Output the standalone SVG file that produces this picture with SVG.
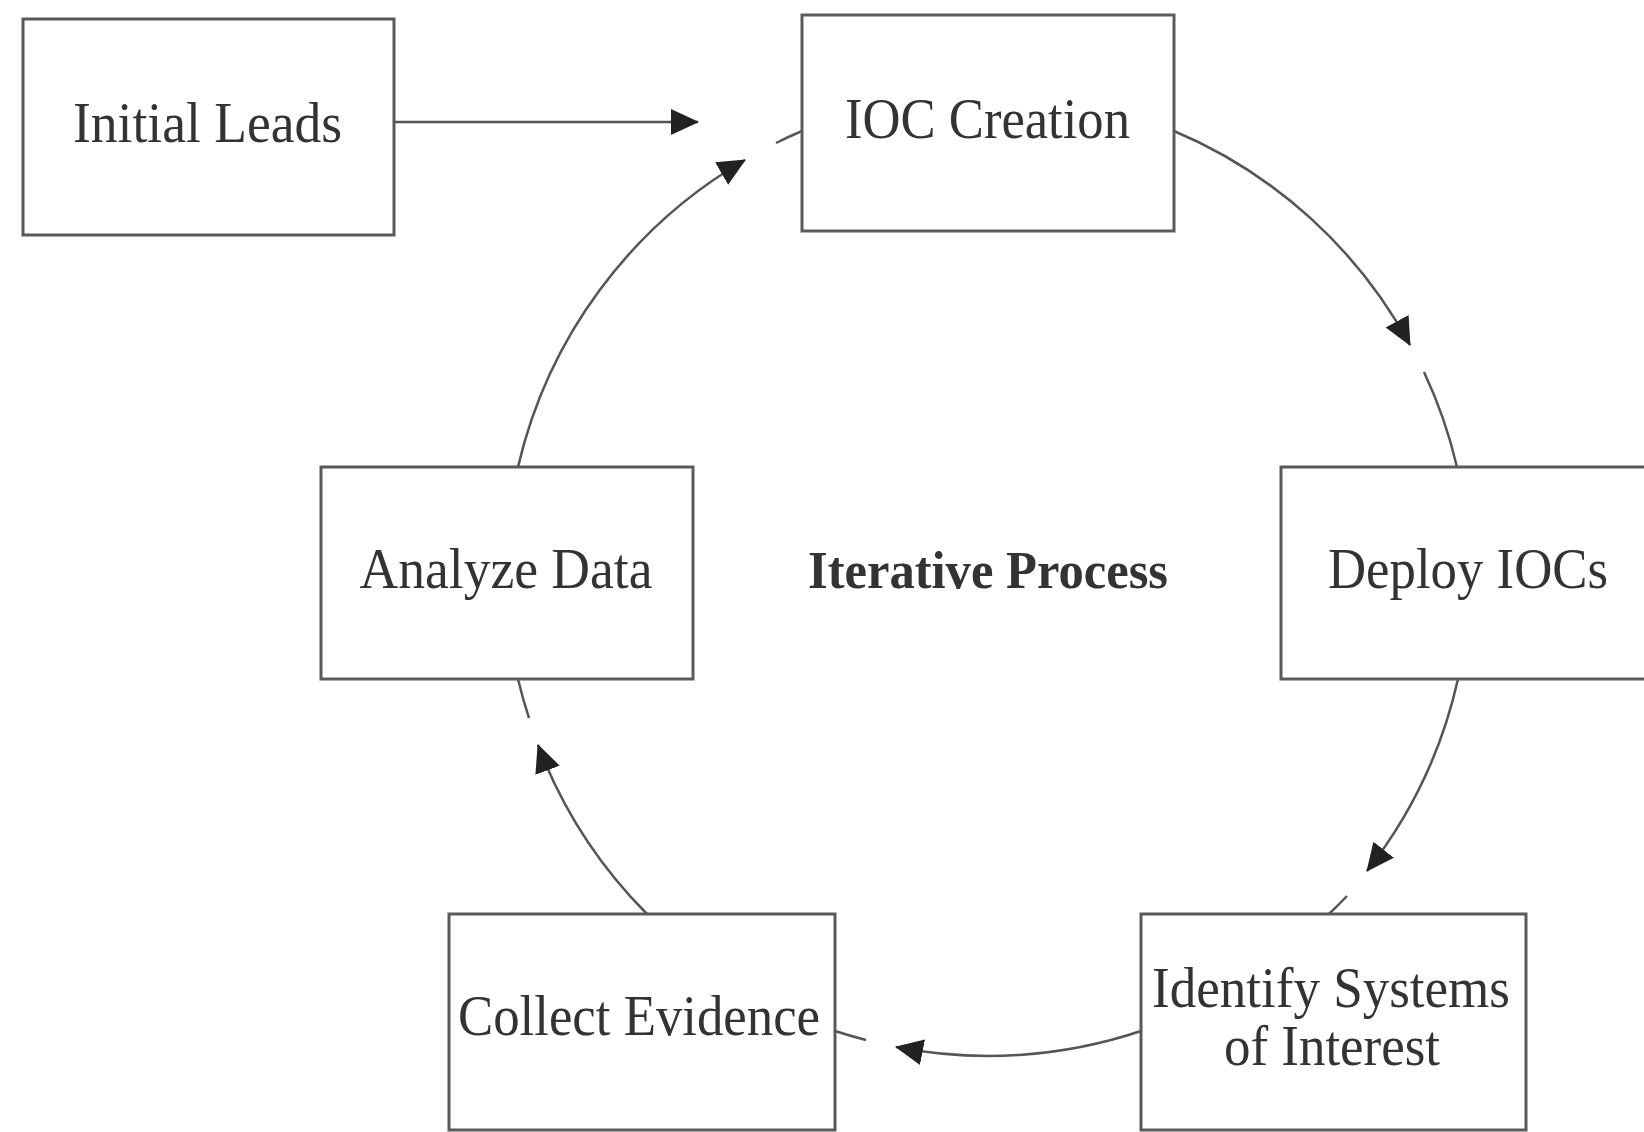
<svg xmlns="http://www.w3.org/2000/svg" width="1644" height="1132" viewBox="0 0 1644 1132">
<style>
.box{fill:#fff;stroke:#5a5a5a;stroke-width:3}
.t{font-family:"Liberation Serif","Times New Roman",serif;font-size:56px;fill:#333;text-anchor:middle}
.b{font-weight:bold;font-size:52px}
.c{fill:none;stroke:#555;stroke-width:2.5}
</style>
<defs>
<marker id="ah" markerUnits="userSpaceOnUse" markerWidth="28" markerHeight="26" refX="27" refY="13" orient="auto">
<path d="M0,0 L28,13 L0,26 z" fill="#222"/>
</marker>
</defs>
<rect width="1644" height="1132" fill="#fff"/>
<g id="connectors">
<line class="c" x1="394" y1="122" x2="698" y2="122" marker-end="url(#ah)"/>
<path class="c" d="M1174,131 A481,481 0 0 1 1410,345" marker-end="url(#ah)"/>
<path class="c" d="M1424,372 A481,481 0 0 1 1457,467"/>
<path class="c" d="M1458,679 A481,481 0 0 1 1367,871" marker-end="url(#ah)"/>
<path class="c" d="M1347,896 A481,481 0 0 1 1329,914"/>
<path class="c" d="M1141,1031 A481,481 0 0 1 896,1047" marker-end="url(#ah)"/>
<path class="c" d="M866,1040 A481,481 0 0 1 835,1031"/>
<path class="c" d="M647,914 A481,481 0 0 1 538,745" marker-end="url(#ah)"/>
<path class="c" d="M529,718 A481,481 0 0 1 518,679"/>
<path class="c" d="M518,467 A481,481 0 0 1 745,160" marker-end="url(#ah)"/>
<path class="c" d="M776,143 A481,481 0 0 1 802,131"/>
</g>
<g id="initial-leads">
<rect class="box" x="23" y="19" width="371" height="216"/>
<text class="t" x="207.5" y="142" textLength="269" lengthAdjust="spacingAndGlyphs">Initial Leads</text>
</g>
<g id="ioc-creation">
<rect class="box" x="802" y="15" width="372" height="216"/>
<text class="t" x="987.5" y="138" textLength="285" lengthAdjust="spacingAndGlyphs">IOC Creation</text>
</g>
<g id="deploy-iocs">
<rect class="box" x="1281" y="467" width="380" height="212"/>
<text class="t" x="1468" y="588" textLength="280" lengthAdjust="spacingAndGlyphs">Deploy IOCs</text>
</g>
<g id="identify-systems">
<rect class="box" x="1141" y="914" width="385" height="216"/>
<text class="t" x="1331" y="1007" textLength="358" lengthAdjust="spacingAndGlyphs">Identify Systems</text>
<text class="t" x="1332" y="1065" textLength="216" lengthAdjust="spacingAndGlyphs">of Interest</text>
</g>
<g id="collect-evidence">
<rect class="box" x="449" y="914" width="386" height="216"/>
<text class="t" x="639" y="1035" textLength="362" lengthAdjust="spacingAndGlyphs">Collect Evidence</text>
</g>
<g id="analyze-data">
<rect class="box" x="321" y="467" width="372" height="212"/>
<text class="t" x="506" y="588" textLength="293" lengthAdjust="spacingAndGlyphs">Analyze Data</text>
</g>
<g id="label">
<text class="t b" x="988" y="588" textLength="360" lengthAdjust="spacingAndGlyphs">Iterative Process</text>
</g>
</svg>
